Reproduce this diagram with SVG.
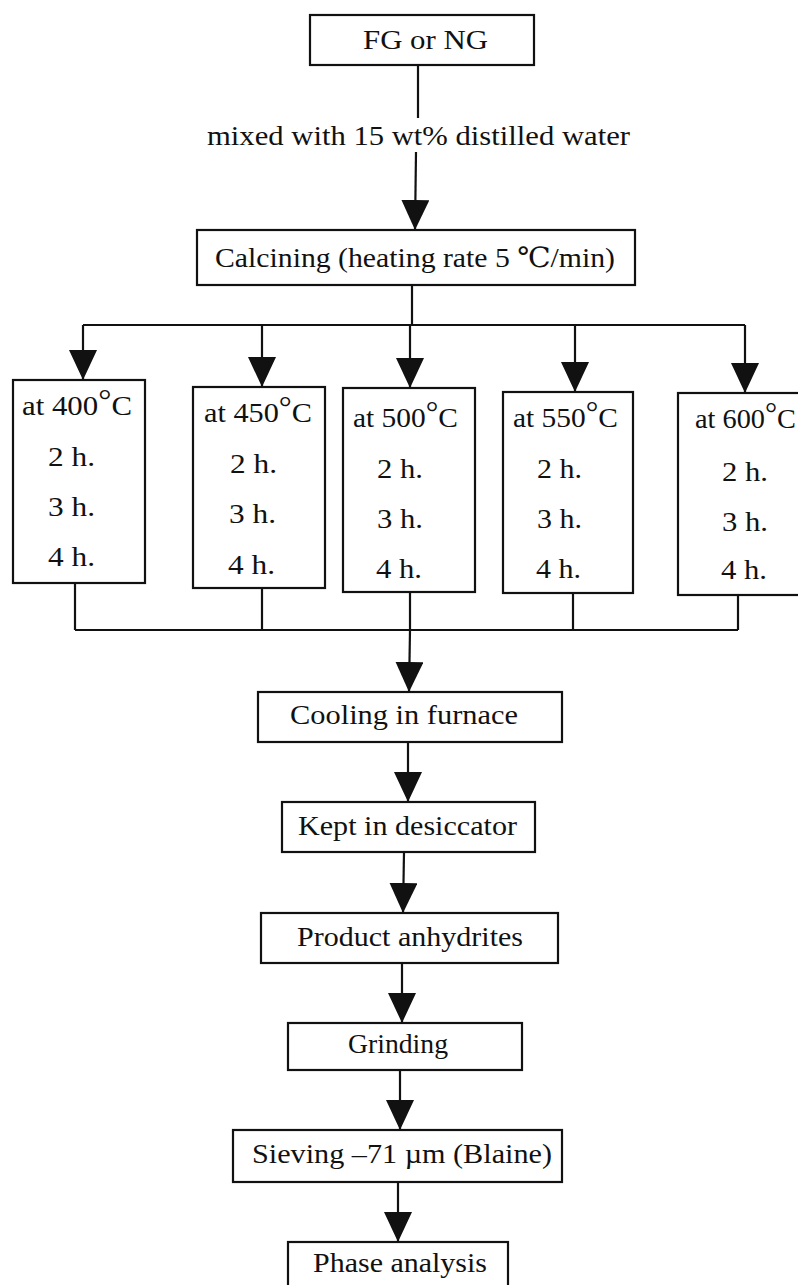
<svg xmlns="http://www.w3.org/2000/svg" width="798" height="1285" viewBox="0 0 798 1285">
<style>
  .box{fill:none;stroke:#111;stroke-width:2.2}
  .t{font-family:"Liberation Serif","DejaVu Serif",serif;font-size:28px;fill:#111}
  .c{fill:none;stroke:#111;stroke-width:2.2}
  .deg{font-size:30px}
</style>
<defs>
  <marker id="ah" viewBox="0 0 30 28" refX="30" refY="14" markerWidth="30" markerHeight="28" markerUnits="userSpaceOnUse" orient="auto">
    <path d="M0,0 L30,14 L0,28 z" fill="#111"/>
  </marker>
</defs>
<rect width="798" height="1285" fill="#fff"/>

<g id="connectors">
  <line class="c" x1="418" y1="65" x2="418" y2="118"/>
  <line class="c" x1="416" y1="152" x2="415" y2="230" marker-end="url(#ah)"/>
  <line class="c" x1="412" y1="285" x2="412" y2="325"/>
  <line class="c" x1="83" y1="325" x2="745" y2="325"/>
  <line class="c" x1="83" y1="325" x2="83" y2="380" marker-end="url(#ah)"/>
  <line class="c" x1="262" y1="325" x2="262" y2="387" marker-end="url(#ah)"/>
  <line class="c" x1="410" y1="325" x2="410" y2="388" marker-end="url(#ah)"/>
  <line class="c" x1="575" y1="325" x2="575" y2="392" marker-end="url(#ah)"/>
  <line class="c" x1="745" y1="325" x2="745" y2="393" marker-end="url(#ah)"/>
  <line class="c" x1="75" y1="583" x2="75" y2="630"/>
  <line class="c" x1="262" y1="588" x2="262" y2="630"/>
  <line class="c" x1="410" y1="592" x2="410" y2="630"/>
  <line class="c" x1="573" y1="593" x2="573" y2="630"/>
  <line class="c" x1="738" y1="595" x2="738" y2="630"/>
  <line class="c" x1="75" y1="630" x2="738" y2="630"/>
  <line class="c" x1="410" y1="630" x2="409" y2="692" marker-end="url(#ah)"/>
  <line class="c" x1="408" y1="742" x2="408" y2="802" marker-end="url(#ah)"/>
  <line class="c" x1="404" y1="852" x2="403" y2="913" marker-end="url(#ah)"/>
  <line class="c" x1="402" y1="963" x2="402" y2="1023" marker-end="url(#ah)"/>
  <line class="c" x1="400" y1="1070" x2="400" y2="1130" marker-end="url(#ah)"/>
  <line class="c" x1="398" y1="1182" x2="398" y2="1242" marker-end="url(#ah)"/>
</g>

<g id="label-water">
  <text class="t" x="207" y="145" textLength="423" lengthAdjust="spacingAndGlyphs">mixed with 15 wt% distilled water</text>
</g>

<g id="n-fg">
  <rect class="box" x="310" y="15" width="224" height="50"/>
  <text class="t" x="363" y="49" textLength="125" lengthAdjust="spacingAndGlyphs">FG or NG</text>
</g>

<g id="n-calcining">
  <rect class="box" x="197" y="230" width="438" height="55"/>
  <text class="t" x="215" y="267" textLength="400" lengthAdjust="spacingAndGlyphs">Calcining (heating rate 5 ℃/min)</text>
</g>

<g id="n-400">
  <rect class="box" x="13" y="380" width="132" height="203"/>
  <text class="t" x="22" y="415" textLength="110" lengthAdjust="spacingAndGlyphs">at 400<tspan class="deg" dy="-5">°</tspan><tspan dy="5">C</tspan></text>
  <text class="t" x="48" y="466" textLength="47" lengthAdjust="spacingAndGlyphs">2 h.</text>
  <text class="t" x="48" y="516" textLength="47" lengthAdjust="spacingAndGlyphs">3 h.</text>
  <text class="t" x="48" y="566" textLength="47" lengthAdjust="spacingAndGlyphs">4 h.</text>
</g>

<g id="n-450">
  <rect class="box" x="193" y="387" width="132" height="201"/>
  <text class="t" x="204" y="422" textLength="108" lengthAdjust="spacingAndGlyphs">at 450<tspan class="deg" dy="-5">°</tspan><tspan dy="5">C</tspan></text>
  <text class="t" x="230" y="473" textLength="47" lengthAdjust="spacingAndGlyphs">2 h.</text>
  <text class="t" x="229" y="523" textLength="47" lengthAdjust="spacingAndGlyphs">3 h.</text>
  <text class="t" x="228" y="574" textLength="47" lengthAdjust="spacingAndGlyphs">4 h.</text>
</g>

<g id="n-500">
  <rect class="box" x="343" y="388" width="132" height="204"/>
  <text class="t" x="353" y="427" textLength="105" lengthAdjust="spacingAndGlyphs">at 500<tspan class="deg" dy="-5">°</tspan><tspan dy="5">C</tspan></text>
  <text class="t" x="377" y="478" textLength="46" lengthAdjust="spacingAndGlyphs">2 h.</text>
  <text class="t" x="377" y="528" textLength="46" lengthAdjust="spacingAndGlyphs">3 h.</text>
  <text class="t" x="376" y="578" textLength="46" lengthAdjust="spacingAndGlyphs">4 h.</text>
</g>

<g id="n-550">
  <rect class="box" x="503" y="392" width="130" height="201"/>
  <text class="t" x="513" y="427" textLength="105" lengthAdjust="spacingAndGlyphs">at 550<tspan class="deg" dy="-5">°</tspan><tspan dy="5">C</tspan></text>
  <text class="t" x="537" y="478" textLength="45" lengthAdjust="spacingAndGlyphs">2 h.</text>
  <text class="t" x="537" y="528" textLength="45" lengthAdjust="spacingAndGlyphs">3 h.</text>
  <text class="t" x="536" y="578" textLength="45" lengthAdjust="spacingAndGlyphs">4 h.</text>
</g>

<g id="n-600">
  <rect class="box" x="678" y="393" width="134" height="202"/>
  <text class="t" x="695" y="428" textLength="101" lengthAdjust="spacingAndGlyphs">at 600<tspan class="deg" dy="-5">°</tspan><tspan dy="5">C</tspan></text>
  <text class="t" x="722" y="481" textLength="46" lengthAdjust="spacingAndGlyphs">2 h.</text>
  <text class="t" x="722" y="531" textLength="46" lengthAdjust="spacingAndGlyphs">3 h.</text>
  <text class="t" x="721" y="579" textLength="46" lengthAdjust="spacingAndGlyphs">4 h.</text>
</g>

<g id="n-cooling">
  <rect class="box" x="258" y="692" width="304" height="50"/>
  <text class="t" x="290" y="724" textLength="228" lengthAdjust="spacingAndGlyphs">Cooling in furnace</text>
</g>

<g id="n-kept">
  <rect class="box" x="282" y="802" width="253" height="50"/>
  <text class="t" x="298" y="835" textLength="219" lengthAdjust="spacingAndGlyphs">Kept in desiccator</text>
</g>

<g id="n-product">
  <rect class="box" x="261" y="913" width="297" height="50"/>
  <text class="t" x="297" y="946" textLength="226" lengthAdjust="spacingAndGlyphs">Product anhydrites</text>
</g>

<g id="n-grinding">
  <rect class="box" x="288" y="1023" width="234" height="47"/>
  <text class="t" x="348" y="1053" textLength="100" lengthAdjust="spacingAndGlyphs">Grinding</text>
</g>

<g id="n-sieving">
  <rect class="box" x="233" y="1130" width="329" height="52"/>
  <text class="t" x="252" y="1163" textLength="300" lengthAdjust="spacingAndGlyphs">Sieving –71 µm (Blaine)</text>
</g>

<g id="n-phase">
  <rect class="box" x="288" y="1242" width="220" height="60"/>
  <text class="t" x="313" y="1272" textLength="174" lengthAdjust="spacingAndGlyphs">Phase analysis</text>
</g>
</svg>
